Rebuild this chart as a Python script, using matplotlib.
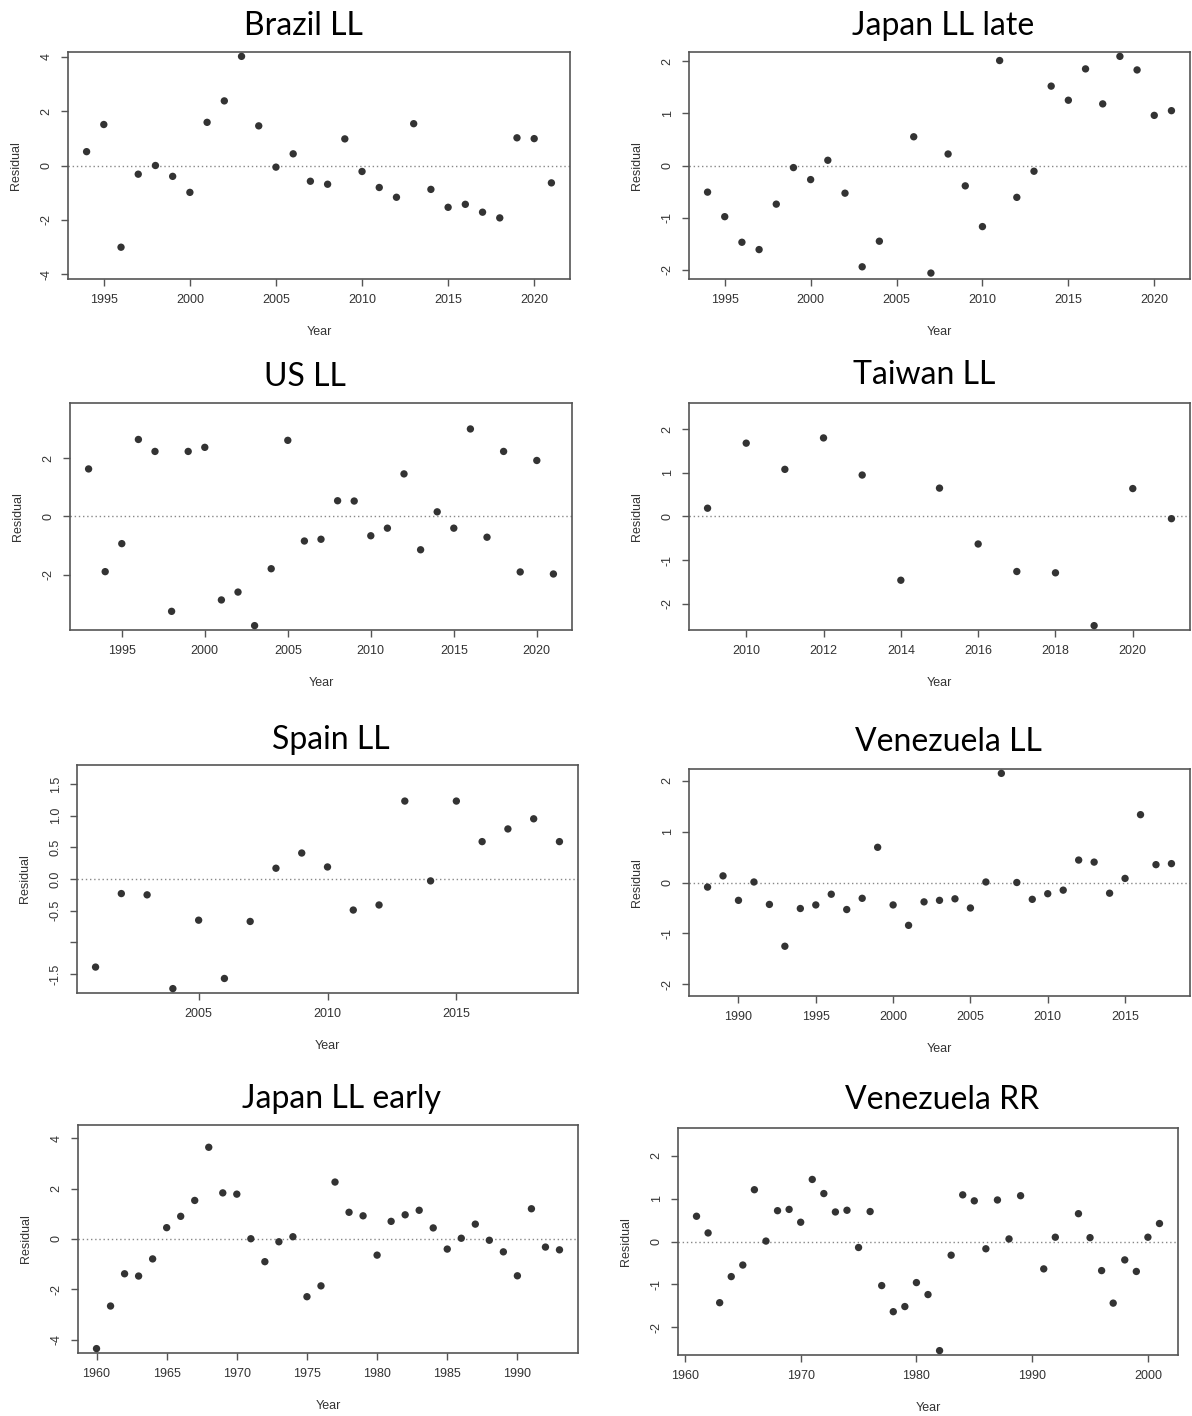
import numpy as np
import matplotlib
matplotlib.use("Agg")
import matplotlib.pyplot as plt

W, H = 1192, 1416
DPI = 100

# residuals
brazil_years = list(range(1994, 2022))
brazil_resid = [0.51, 1.51, -3.01, -0.32, 0.00, -0.40, -0.99, 1.59, 2.38, 4.02,
                1.46, -0.06, 0.43, -0.58, -0.69, 0.98, -0.22, -0.81, -1.17, 1.54,
                -0.88, -1.54, -1.43, -1.72, -1.93, 1.02, 0.99, -0.64]

japan_late_years = [1994, 1995, 1996, 1997, 1998, 1999, 2000, 2001, 2002, 2003,
                    2004, 2006, 2007, 2008, 2009, 2010, 2011, 2012, 2013, 2014,
                    2015, 2016, 2017, 2018, 2019, 2020, 2021]
japan_late_resid = [-0.51, -0.98, -1.47, -1.61, -0.74, -0.04, -0.27, 0.10, -0.53,
                    -1.94, -1.45, 0.55, -2.06, 0.22, -0.39, -1.17, 2.01, -0.61,
                    -0.11, 1.52, 1.25, 1.85, 1.18, 2.09, 1.83, 0.96, 1.05]

us_years = list(range(1993, 2022))
us_resid = [1.63, -1.89, -0.93, 2.64, 2.23, -3.25, 2.23, 2.37, -2.86, -2.59,
            -3.74, -1.79, 2.61, -0.84, -0.78, 0.54, 0.53, -0.66, -0.40, 1.46,
            -1.14, 0.16, -0.40, 3.00, -0.71, 2.23, -1.90, 1.92, -1.97]

taiwan_years = list(range(2009, 2022))
taiwan_resid = [0.19, 1.68, 1.08, 1.80, 0.95, -1.46, 0.65, -0.63, -1.26, -1.29,
                -2.50, 0.64, -0.05]

spain_years = list(range(2001, 2020))
spain_resid = [-1.39, -0.23, -0.25, -1.73, -0.65, -1.57, -0.67, 0.17, 0.41, 0.19,
               -0.49, -0.41, 1.23, -0.03, 1.23, 0.59, 0.79, 0.95, 0.59]

venez_ll_years = list(range(1988, 2019))
venez_ll_resid = [-0.09, 0.13, -0.35, 0.01, -0.43, -1.25, -0.51, -0.44, -0.23,
                  -0.53, -0.31, 0.69, -0.44, -0.84, -0.38, -0.35, -0.32, -0.50,
                  0.01, 2.14, 0.00, -0.33, -0.22, -0.15, 0.44, 0.40, -0.21, 0.08,
                  1.33, 0.35, 0.37]

japan_early_years = list(range(1960, 1994))
japan_early_resid = [-4.35, -2.66, -1.38, -1.47, -0.79, 0.45, 0.90, 1.53, 3.64,
                     1.83, 1.78, 0.01, -0.90, -0.11, 0.09, -2.29, -1.86, 2.26,
                     1.06, 0.92, -0.64, 0.70, 0.96, 1.14, 0.44, -0.40, 0.03, 0.59,
                     -0.05, -0.51, -1.46, 1.20, -0.32, -0.43]

venez_rr_years = [1961, 1962, 1963, 1964, 1965, 1966, 1967, 1968, 1969, 1970,
                  1971, 1972, 1973, 1974, 1975, 1976, 1977, 1978, 1979, 1980,
                  1981, 1982, 1983, 1984, 1985, 1986, 1987, 1988, 1989, 1991,
                  1992, 1994, 1995, 1996, 1997, 1998, 1999, 2000, 2001]
venez_rr_resid = [0.59, 0.20, -1.43, -0.82, -0.55, 1.21, 0.01, 0.72, 0.75, 0.45,
                  1.45, 1.12, 0.69, 0.73, -0.14, 0.70, -1.03, -1.64, -1.52, -0.96,
                  -1.24, -2.55, -0.32, 1.09, 0.95, -0.17, 0.97, 0.06, 1.07, -0.64,
                  0.10, 0.65, 0.09, -0.68, -1.44, -0.43, -0.70, 0.10, 0.42]

# title, years, residuals, plot box (left, top, right, bottom px), title centre/baseline,
# x ticks, y ticks, y tick labels
panels = [
    ("Brazil LL", brazil_years, brazil_resid, (68, 52, 570, 279), (303, 35),
     [1995, 2000, 2005, 2010, 2015, 2020], [-4, -2, 0, 2, 4], None),
    ("Japan LL late", japan_late_years, japan_late_resid, (689, 52, 1190, 279), (943, 35),
     [1995, 2000, 2005, 2010, 2015, 2020], [-2, -1, 0, 1, 2], None),
    ("US LL", us_years, us_resid, (70, 403, 572, 630), (305, 386),
     [1995, 2000, 2005, 2010, 2015, 2020], [-2, 0, 2], None),
    ("Taiwan LL", taiwan_years, taiwan_resid, (689, 403, 1190, 630), (924, 384),
     [2010, 2012, 2014, 2016, 2018, 2020], [-2, -1, 0, 1, 2], None),
    ("Spain LL", spain_years, spain_resid, (77, 765, 578, 993), (331, 749),
     [2005, 2010, 2015], [-1.5, -1.0, -0.5, 0.0, 0.5, 1.0, 1.5],
     ["-1.5", "", "-0.5", "0.0", "0.5", "1.0", "1.5"]),
    ("Venezuela LL", venez_ll_years, venez_ll_resid, (689, 769, 1190, 996), (948, 751),
     [1990, 1995, 2000, 2005, 2010, 2015], [-2, -1, 0, 1, 2], None),
    ("Japan LL early", japan_early_years, japan_early_resid, (78, 1125, 578, 1353), (341, 1108),
     [1960, 1965, 1970, 1975, 1980, 1985, 1990], [-4, -2, 0, 2, 4], None),
    ("Venezuela RR", venez_rr_years, venez_rr_resid, (678, 1128, 1178, 1355), (942, 1109),
     [1960, 1970, 1980, 1990, 2000], [-2, -1, 0, 1, 2], None),
]

plt.rcParams["font.family"] = ["Liberation Sans", "DejaVu Sans"]

fig = plt.figure(figsize=(W / DPI, H / DPI), dpi=DPI)
fig.patch.set_facecolor("white")

for title, years, resid, box, tpos, xt, yt, ylab in panels:
    l, t, r, b = box
    ax = fig.add_axes([l / W, 1 - b / H, (r - l) / W, (b - t) / H])
    years = np.array(years)
    resid = np.array(resid)

    ax.scatter(years, resid, s=28, color="#333333", edgecolors="none", zorder=3)
    ax.axhline(0, color="#888888", lw=1.0, ls=(0, (1, 2)), zorder=1)

    # R-style limits: range padded by 4%, y symmetric about zero
    span = years.max() - years.min()
    ax.set_xlim(years.min() - 0.04 * span, years.max() + 0.04 * span)
    m = np.abs(resid).max() * 1.04
    ax.set_ylim(-m, m)

    ax.set_xticks(xt)
    ax.set_xticklabels([str(v) for v in xt])
    ax.set_yticks(yt)
    if ylab is None:
        ylab = ["%g" % v for v in yt]
    ax.set_yticklabels(ylab)

    ax.tick_params(direction="out", length=5, width=1, color="#555555",
                   labelcolor="#333333", labelsize=9, pad=6)
    ax.tick_params(axis="y", labelrotation=90)
    for lab in ax.get_yticklabels():
        lab.set_va("center")
    for sp in ax.spines.values():
        sp.set_color("#555555")
        sp.set_linewidth(1.2)

    ax.annotate("Year", xy=(0.5, 0), xycoords="axes fraction", xytext=(0, -53),
                textcoords="offset pixels", ha="center", va="center",
                fontsize=9, color="#333333")
    ax.annotate("Residual", xy=(0, 0.5), xycoords="axes fraction", xytext=(-52, 0),
                textcoords="offset pixels", ha="center", va="center", rotation=90,
                fontsize=9, color="#333333")

    fig.text(tpos[0] / W, 1 - tpos[1] / H, title, ha="center", va="baseline",
             fontsize=23, family="Lato", color="black")

fig.savefig("out.png", dpi=DPI)
